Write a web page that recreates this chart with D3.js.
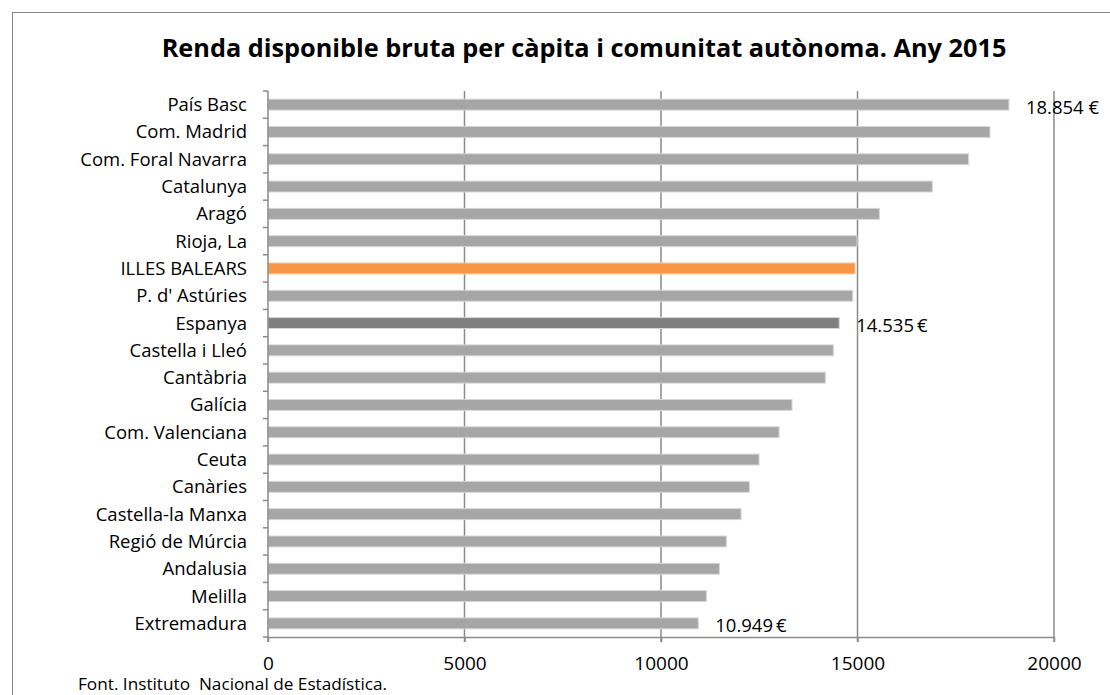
<!DOCTYPE html>
<html>
<head>
<meta charset="utf-8">
<script src="https://cdn.jsdelivr.net/npm/d3@7"></script>
<style>
  body { margin: 0; background: #fff; }
  text { font-family: "Open Sans", Lato, sans-serif; fill: #000; }
</style>
</head>
<body>
<script>
// data
const regions = ["País Basc", "Com. Madrid", "Com. Foral Navarra", "Catalunya", "Aragó", "Rioja, La",
  "ILLES BALEARS", "P. d' Astúries", "Espanya", "Castella i Lleó", "Cantàbria", "Galícia",
  "Com. Valenciana", "Ceuta", "Canàries", "Castella-la Manxa", "Regió de Múrcia", "Andalusia",
  "Melilla", "Extremadura"];
const income = [18854, 18370, 17828, 16903, 15555, 14990,
  14937, 14878, 14535, 14385, 14181, 13334,
  13004, 12495, 12249, 12037, 11664, 11486,
  11155, 10949];
const xTicks = [0, 5000, 10000, 15000, 20000];
const labelled = {"País Basc": "18.854 €", "Espanya": "14.535\u2009€", "Extremadura": "10.949\u2009€"};

let margin = {top: 91, right: 56, bottom: 58, left: 268},
  width = 1110 - margin.left - margin.right,
  height = 695 - margin.top - margin.bottom;

const root = d3.select("body")
  .append("svg")
  .attr("width", 1110)
  .attr("height", 695);

// chart border
root.append("rect")
  .attr("x", 12.5).attr("y", 12.5)
  .attr("width", 1110).attr("height", 700)
  .attr("fill", "none")
  .attr("stroke", "#888")
  .attr("stroke-width", 1);

root.append("text")
  .attr("x", 584)
  .attr("y", 57)
  .attr("text-anchor", "middle")
  .style("font-weight", "bold")
  .style("font-size", "25.3px")
  .text("Renda disponible bruta per càpita i comunitat autònoma. Any 2015");

const svg = root.append("g")
  .attr("transform", "translate(" + margin.left + "," + margin.top + ")");

let x = d3.scaleLinear()
  .domain([0, 20000])
  .range([0, width]);

let y = d3.scaleBand()
  .domain(regions)
  .range([0, height])
  .paddingInner(0.6)
  .paddingOuter(0.3);

const grey = "#8a8a8a";

// gridlines
svg.selectAll("line.grid")
  .data(xTicks.slice(1))
  .join("line")
  .attr("class", "grid")
  .attr("x1", d => x(d)).attr("x2", d => x(d))
  .attr("y1", 0).attr("y2", height + 5)
  .attr("stroke", grey)
  .attr("stroke-width", 1.5);

svg.selectAll("rect.bar")
  .data(regions)
  .join("rect")
  .attr("class", "bar")
  .attr("x", 0)
  .attr("y", d => y(d))
  .attr("width", (d, i) => x(income[i]))
  .attr("height", y.bandwidth())
  .attr("fill", d => d == "ILLES BALEARS" ? "#f79646" : d == "Espanya" ? "#7f7f7f" : "#a6a6a6")
  .attr("stroke", d => d == "ILLES BALEARS" ? "#fbc9a0" : "#d6d6d6")
  .attr("stroke-width", 1);

// x axis
const xAxis = svg.append("g")
  .attr("transform", "translate(0," + height + ")")
  .call(d3.axisBottom(x).tickValues(xTicks).tickFormat(d3.format("d"))
    .tickSize(5).tickSizeOuter(0).tickPadding(15));
xAxis.select(".domain").attr("stroke", grey).attr("stroke-width", 1.5);
xAxis.selectAll(".tick line").attr("stroke", grey).attr("stroke-width", 1.5);
xAxis.selectAll("text").style("font-size", "19px").attr("font-family", null);

// y axis: ticks between categories
svg.append("line")
  .attr("x1", 0).attr("x2", 0)
  .attr("y1", 0).attr("y2", height + 5)
  .attr("stroke", grey).attr("stroke-width", 1.5);
const step = y.step();
svg.selectAll("line.ytick")
  .data(d3.range(regions.length + 1))
  .join("line")
  .attr("class", "ytick")
  .attr("x1", -5).attr("x2", 0)
  .attr("y1", i => y(regions[0]) - y.paddingOuter() * step + i * step)
  .attr("y2", i => y(regions[0]) - y.paddingOuter() * step + i * step)
  .attr("stroke", grey).attr("stroke-width", 1.5);

svg.selectAll("text.cat")
  .data(regions)
  .join("text")
  .attr("class", "cat")
  .attr("x", -21)
  .attr("y", d => y(d) + y.bandwidth() / 2)
  .attr("dy", "0.35em")
  .attr("text-anchor", "end")
  .style("font-size", "18.5px")
  .text(d => d);

// value labels
svg.selectAll("text.val")
  .data(regions.filter(d => labelled[d]))
  .join("text")
  .attr("class", "val")
  .attr("x", d => x(income[regions.indexOf(d)]) + 17)
  .attr("y", d => y(d) + y.bandwidth() / 2 + 9)
  .style("font-size", "18.5px")
  .text(d => labelled[d]);

root.append("text")
  .attr("x", 78)
  .attr("y", 690)
  .style("font-size", "17.2px")
  .style("white-space", "pre")
  .text("Font. Instituto  Nacional de Estadística.");
</script>
</body>
</html>
